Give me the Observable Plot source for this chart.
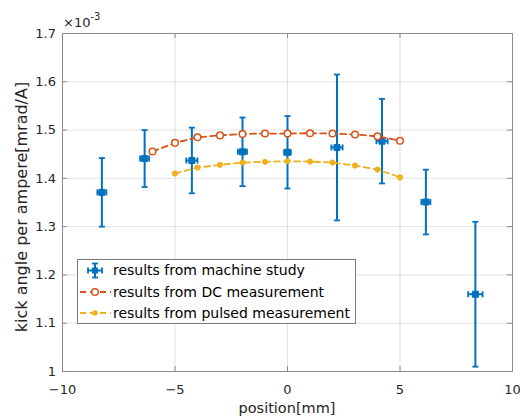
<!DOCTYPE html>
<html><head><meta charset="utf-8">
<script src="https://cdn.jsdelivr.net/npm/d3@7"></script>
<script src="https://cdn.jsdelivr.net/npm/@observablehq/plot@0.6"></script>
<style>
body{margin:0;background:#fff;}
#chart svg{display:block;}
</style></head><body><div id="chart"></div>
<script>
// ---- data (values in units of 1e-3 mrad/A) ----
const machineX = [-8.25, -6.35, -4.25, -2.0, 0.0, 2.2, 4.2, 6.15, 8.35];
const machineY = [1.371, 1.441, 1.437, 1.455, 1.454, 1.464, 1.477, 1.351, 1.160];
const machineErrY = [0.071, 0.059, 0.068, 0.071, 0.075, 0.151, 0.0875, 0.067, 0.150];
const machineErrX = [0.2, 0.2, 0.25, 0.2, 0.15, 0.25, 0.25, 0.2, 0.32];
const dcX = [-6, -5, -4, -3, -2, -1, 0, 1, 2, 3, 4, 5];
const dcY = [1.4555, 1.4735, 1.485, 1.489, 1.492, 1.4928, 1.4928, 1.4935, 1.4928, 1.4907, 1.487, 1.478];
const pulsedX = [-5, -4, -3, -2, -1, 0, 1, 2, 3, 4, 5];
const pulsedY = [1.41, 1.4224, 1.428, 1.4327, 1.4342, 1.4355, 1.4348, 1.4327, 1.4265, 1.4182, 1.402];
const xTicks = [-10, -5, 0, 5, 10];
const yTicks = [1, 1.1, 1.2, 1.3, 1.4, 1.5, 1.6, 1.7];
const legendLabels = ["results from machine study", "results from DC measurement", "results from pulsed measurement"];
const xLabel = "position[mm]";
const yLabel = "kick angle per ampere[mrad/A]";

// ---- styling ----
const BLUE = "#0072BD", ORANGE = "#D95319", YELLOW = "#EDB120";
const W = 520, H = 419, mL = 62, mR = 8, mT = 33, mB = 48;
const iw = W - mL - mR, ih = H - mT - mB;
const FONT = "DejaVu Sans";

const machine = machineX.map((x, i) => ({x, y: machineY[i], ey: machineErrY[i], ex: machineErrX[i]}));
const dc = dcX.map((x, i) => ({x, y: dcY[i]}));
const pulsed = pulsedX.map((x, i) => ({x, y: pulsedY[i]}));

const capH = {draw(ctx) { ctx.moveTo(-3, 0); ctx.lineTo(3, 0); }};
const capV = {draw(ctx) { ctx.moveTo(0, -3); ctx.lineTo(0, 3); }};

const chart = Plot.plot({
  width: W, height: H,
  marginLeft: mL, marginRight: mR, marginTop: mT, marginBottom: mB,
  style: {fontFamily: FONT, fontSize: "13px", color: "#262626", background: "white", overflow: "visible"},
  x: {domain: [-10, 10], ticks: xTicks, label: null},
  y: {domain: [1, 1.7], ticks: yTicks, label: null},
  marks: [
    Plot.gridX(xTicks, {stroke: "#262626", strokeOpacity: 0.13}),
    Plot.gridY(yTicks, {stroke: "#262626", strokeOpacity: 0.13}),
    Plot.frame({stroke: "#8c8c8c"}),
    Plot.tickX(xTicks, {x: d => d, insetTop: ih - 5, stroke: "#8c8c8c"}),
    Plot.tickX(xTicks, {x: d => d, insetBottom: ih - 5, stroke: "#8c8c8c"}),
    Plot.tickY(yTicks, {y: d => d, insetRight: iw - 5, stroke: "#8c8c8c"}),
    Plot.tickY(yTicks, {y: d => d, insetLeft: iw - 5, stroke: "#8c8c8c"}),
    Plot.axisX(xTicks, {tickSize: 0, tickPadding: 13, fill: "#262626", fontSize: 13}),
    Plot.axisY(yTicks, {tickSize: 0, tickPadding: 6.5, fill: "#262626", fontSize: 13,
      tickFormat: d => String(+d.toFixed(1))}),
    // machine study error bars
    Plot.ruleX(machine, {x: "x", y1: d => d.y - d.ey, y2: d => d.y + d.ey, stroke: BLUE, strokeWidth: 2}),
    Plot.ruleY(machine, {y: "y", x1: d => d.x - d.ex, x2: d => d.x + d.ex, stroke: BLUE, strokeWidth: 2}),
    Plot.dot(machine, {x: "x", y: d => d.y - d.ey, symbol: capH, r: 3, stroke: BLUE, strokeWidth: 1.8}),
    Plot.dot(machine, {x: "x", y: d => d.y + d.ey, symbol: capH, r: 3, stroke: BLUE, strokeWidth: 1.8}),
    Plot.dot(machine, {x: d => d.x - d.ex, y: "y", symbol: capV, r: 3, stroke: BLUE, strokeWidth: 1.8}),
    Plot.dot(machine, {x: d => d.x + d.ex, y: "y", symbol: capV, r: 3, stroke: BLUE, strokeWidth: 1.8}),
    Plot.dot(machine, {x: "x", y: "y", symbol: "square", r: 3.4, fill: BLUE, stroke: BLUE, strokeWidth: 1}),
    // DC measurement
    Plot.line(dc, {x: "x", y: "y", stroke: ORANGE, strokeWidth: 1.8, strokeDasharray: "6,4"}),
    Plot.dot(dc, {x: "x", y: "y", r: 3.3, stroke: ORANGE, fill: "white", strokeWidth: 1.5}),
    // pulsed measurement
    Plot.line(pulsed, {x: "x", y: "y", stroke: YELLOW, strokeWidth: 1.8, strokeDasharray: "6,4"}),
    Plot.dot(pulsed, {x: "x", y: "y", r: 2.8, fill: YELLOW, stroke: YELLOW, strokeWidth: 0.5})
  ]
});

const svg = d3.select(chart);

// exponent label
const ex = svg.append("text").attr("x", 63).attr("y", 27).attr("text-anchor", "start")
  .attr("font-family", FONT).attr("font-size", 13).attr("fill", "#262626");
ex.append("tspan").text("×10");
ex.append("tspan").attr("font-size", 10).attr("dy", -7).text("-3");

// axis labels
svg.append("text").attr("x", mL + iw / 2).attr("y", 413)
  .attr("text-anchor", "middle").attr("font-family", FONT).attr("font-size", 14.5)
  .attr("fill", "#262626").text(xLabel);
svg.append("text").attr("transform", `translate(21,207) rotate(-90)`)
  .attr("text-anchor", "middle").attr("dy", "0.35em").attr("font-family", FONT).attr("font-size", 16)
  .attr("fill", "#262626").text(yLabel);

// legend
const lg = svg.append("g").attr("text-anchor", "start");
lg.append("rect").attr("x", 77.5).attr("y", 259.5).attr("width", 278).attr("height", 64)
  .attr("fill", "white").attr("stroke", "#7a7a7a").attr("stroke-width", 1);
const rows = [270.5, 292, 313];
const sx = 95;
legendLabels.forEach((t, i) => {
  lg.append("text").attr("x", 113).attr("y", rows[i]).attr("dy", "0.35em").attr("text-anchor", "start")
    .attr("font-family", FONT).attr("font-size", 14).attr("fill", "#000").text(t);
});
// machine study symbol
{
  const y = rows[0];
  lg.append("line").attr("x1", sx).attr("x2", sx).attr("y1", y - 7).attr("y2", y + 7).attr("stroke", BLUE).attr("stroke-width", 2);
  lg.append("line").attr("x1", sx - 7).attr("x2", sx + 7).attr("y1", y).attr("y2", y).attr("stroke", BLUE).attr("stroke-width", 2);
  [[sx - 3, y - 7, sx + 3, y - 7], [sx - 3, y + 7, sx + 3, y + 7], [sx - 7, y - 3, sx - 7, y + 3], [sx + 7, y - 3, sx + 7, y + 3]]
    .forEach(([a, b, c, d]) => lg.append("line").attr("x1", a).attr("y1", b).attr("x2", c).attr("y2", d).attr("stroke", BLUE).attr("stroke-width", 1.8));
  lg.append("rect").attr("x", sx - 3).attr("y", y - 3).attr("width", 6).attr("height", 6).attr("fill", BLUE);
}
// DC symbol
{
  const y = rows[1];
  lg.append("line").attr("x1", 80).attr("x2", 111).attr("y1", y).attr("y2", y).attr("stroke", ORANGE).attr("stroke-width", 1.8).attr("stroke-dasharray", "6,4");
  lg.append("circle").attr("cx", sx).attr("cy", y).attr("r", 3.3).attr("fill", "white").attr("stroke", ORANGE).attr("stroke-width", 1.5);
}
// pulsed symbol
{
  const y = rows[2];
  lg.append("line").attr("x1", 80).attr("x2", 111).attr("y1", y).attr("y2", y).attr("stroke", YELLOW).attr("stroke-width", 1.8).attr("stroke-dasharray", "6,4");
  lg.append("circle").attr("cx", sx).attr("cy", y).attr("r", 2.8).attr("fill", YELLOW);
}

document.getElementById("chart").appendChild(chart);
</script></body></html>
